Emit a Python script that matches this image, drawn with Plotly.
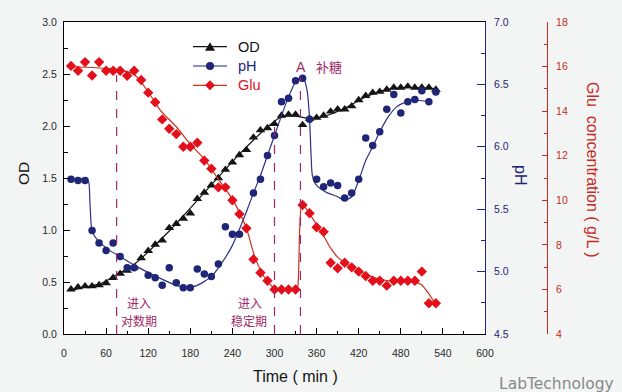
import plotly.graph_objects as go

# ---------------- data ----------------
od_time = [10, 20, 30, 40, 50, 60, 70, 80, 90, 100, 110, 120, 130, 140, 150, 160, 170, 180, 190, 200,
           210, 220, 230, 240, 250, 260, 270, 280, 290, 300, 310, 320, 330, 340, 350, 360, 370, 380, 390, 400,
           410, 420, 430, 440, 450, 460, 470, 480, 490, 500, 510, 520, 530]
od_values = [0.43, 0.45, 0.46, 0.46, 0.47, 0.49, 0.54, 0.58, 0.61, 0.64, 0.73, 0.80, 0.86, 0.90, 1.02, 1.06, 1.11, 1.16, 1.30, 1.36,
             1.43, 1.50, 1.58, 1.65, 1.72, 1.77, 1.89, 1.96, 1.98, 2.02, 2.10, 2.11, 2.11, 2.01, 2.07, 2.08, 2.10, 2.14, 2.16, 2.16,
             2.19, 2.25, 2.29, 2.32, 2.33, 2.35, 2.37, 2.37, 2.38, 2.37, 2.37, 2.37, 2.35]

ph_time = [10, 20, 30, 40, 50, 60, 70, 80, 90, 100, 120, 130, 140, 150, 160, 170, 180, 190, 200, 210,
           220, 230, 240, 250, 270, 280, 290, 300, 310, 320, 330, 340, 350, 360, 370, 380, 390, 400, 410, 420,
           430, 440, 450, 460, 470, 480, 490, 500, 510, 520, 530]
ph_values = [5.74, 5.73, 5.73, 5.33, 5.23, 5.17, 5.23, 5.12, 5.03, 5.03, 4.97, 4.95, 4.89, 5.03, 4.91, 4.87, 4.87, 5.02, 4.98, 4.96,
             5.06, 5.36, 5.30, 5.30, 5.63, 5.74, 5.93, 6.09, 6.36, 6.39, 6.53, 6.55, 6.22, 5.74, 5.68, 5.71, 5.69, 5.59, 5.63, 5.74,
             6.07, 6.01, 6.12, 6.30, 6.42, 6.27, 6.36, 6.38, 6.45, 6.36, 6.44]

glu_time = od_time
glu_values = [16.03, 15.81, 16.20, 15.60, 16.20, 15.81, 15.81, 15.81, 15.59, 15.81,
              15.40, 14.83, 14.40, 13.63, 13.21, 12.97, 12.40, 12.40, 12.58, 11.78,
              11.42, 10.58, 10.58, 10.00, 9.38, 8.74, 7.35, 6.75, 6.39, 6.00,
              6.00, 6.00, 6.00, 9.79, 9.42, 8.79, 8.59, 7.20, 6.95, 7.20,
              6.99, 6.80, 6.60, 6.39, 6.39, 6.17, 6.39, 6.39, 6.39, 6.39,
              6.80, 5.38, 5.38]

# fitted (smoothed) curves
od_fit_time = [10, 30, 50, 60, 70, 100, 150, 200, 250, 290, 305, 320, 335, 350, 370, 400, 430, 460, 490, 530]
od_fit_values = [0.42, 0.45, 0.48, 0.51, 0.55, 0.67, 0.99, 1.36, 1.73, 1.99, 2.07, 2.10, 2.09, 2.07, 2.09, 2.17, 2.28, 2.35, 2.37, 2.36]

ph_fit_time = [10, 30, 35, 37, 39, 42, 50, 65, 80, 104, 132, 160, 175, 190, 210, 225, 240, 250, 260, 270,
               280, 290, 300, 310, 320, 330, 338, 343, 347, 350, 352, 354, 360, 374, 390, 400, 410, 420, 430,
               440, 450, 462, 474, 488, 500, 520]
ph_fit_values = [5.74, 5.74, 5.72, 5.55, 5.36, 5.30, 5.24, 5.17, 5.12, 5.04, 4.96, 4.89, 4.87, 4.89, 4.96, 5.07, 5.21, 5.34, 5.48, 5.63,
                 5.77, 5.93, 6.09, 6.25, 6.40, 6.52, 6.56, 6.53, 6.43, 6.22, 5.95, 5.77, 5.69, 5.635, 5.60, 5.57, 5.60, 5.73, 5.89,
                 6.00, 6.12, 6.24, 6.32, 6.36, 6.375, 6.36]

glu_fit_time = [5, 30, 60, 80, 101, 120, 137, 160, 180, 200, 220, 240, 250, 260, 270, 280, 290, 300, 315, 332,
                334, 336, 339, 350, 360, 370, 380, 390, 400, 420, 440, 460, 480, 500, 510, 520, 528]
glu_fit_values = [16.0, 15.97, 15.92, 15.85, 15.62, 14.87, 14.05, 13.30, 12.52, 11.85, 10.95, 10.05, 9.45, 8.75, 7.65, 6.85, 6.36, 6.06, 6.0, 6.0,
                  6.5, 8.8, 9.85, 9.40, 8.90, 8.40, 7.85, 7.45, 7.20, 6.85, 6.55, 6.40, 6.36, 6.33, 6.20, 5.80, 5.42]

# event lines (time, top of the dashed line in OD units)
event_time = [75, 300, 337]
event_top = [2.49, 2.02, 2.47]

x_ticks = [0, 60, 120, 180, 240, 300, 360, 420, 480, 540, 600]

# ---------------- styling ----------------
W, H = 622, 392
ML, MR, MT, MB = 64, 62, 22, 58
PW = W - ML - MR
PH = H - MT - MB
X_END = (485 - ML) / PW
GLU_POS = (547 - ML) / PW

BLACK = "#141414"
NAVY = "#1f2577"
NAVY_LINE = "#2c3383"
RED = "#e3101c"
RED_LINE = "#c8321e"
RED_AX = "#c62a22"
PURPLE = "#a02868"
FONT = "Liberation Sans, Arial, sans-serif"
CJK = "Noto Sans CJK SC, sans-serif"


def px(x):
    return (x - ML) / PW


def py(y):
    return (MT + PH - y) / PH


fig = go.Figure()

# fitted curves
fig.add_trace(go.Scatter(x=glu_fit_time, y=glu_fit_values, yaxis="y3", mode="lines",
                         line=dict(color=RED_LINE, width=1.2, shape="spline", smoothing=0.6),
                         showlegend=False, hoverinfo="skip"))
fig.add_trace(go.Scatter(x=ph_fit_time, y=ph_fit_values, yaxis="y2", mode="lines",
                         line=dict(color=NAVY_LINE, width=1.2, shape="spline", smoothing=0.6),
                         showlegend=False, hoverinfo="skip"))
fig.add_trace(go.Scatter(x=od_fit_time, y=od_fit_values, yaxis="y", mode="lines",
                         line=dict(color=BLACK, width=1.2, shape="spline", smoothing=0.6),
                         showlegend=False, hoverinfo="skip"))

# markers
fig.add_trace(go.Scatter(x=glu_time, y=glu_values, yaxis="y3", mode="markers", name="Glu",
                         marker=dict(symbol="diamond", size=8, color=RED, line=dict(width=0)),
                         showlegend=False))
fig.add_trace(go.Scatter(x=ph_time, y=ph_values, yaxis="y2", mode="markers", name="pH",
                         marker=dict(symbol="circle", size=7.5, color=NAVY, line=dict(width=0)),
                         showlegend=False))
fig.add_trace(go.Scatter(x=od_time, y=od_values, yaxis="y", mode="markers", name="OD",
                         marker=dict(symbol="triangle-up", size=8.5, color=BLACK, line=dict(width=0)),
                         showlegend=False))

shapes = []
for t, top in zip(event_time, event_top):
    shapes.append(dict(type="line", xref="x", yref="y", x0=t, x1=t, y0=0, y1=top,
                       line=dict(color=PURPLE, width=1.2, dash="dash")))

# legend (manual)
leg_rows = [(46.7, "OD", BLACK, "tri"), (66.0, "pH", NAVY, "circ"), (85.3, "Glu", RED, "dia")]
annotations = []
for yy, label, col, kind in leg_rows:
    shapes.append(dict(type="line", xref="paper", yref="paper", x0=px(193), x1=px(227),
                       y0=py(yy), y1=py(yy), line=dict(color=col if kind != "dia" else RED_LINE, width=1.2)))
    cx = 210
    if kind == "tri":
        path = "M {} {} L {} {} L {} {} Z".format(px(cx - 5), py(yy + 4), px(cx + 5), py(yy + 4), px(cx), py(yy - 4.5))
        shapes.append(dict(type="path", xref="paper", yref="paper", path=path, fillcolor=col, line=dict(width=0)))
    elif kind == "circ":
        shapes.append(dict(type="circle", xref="paper", yref="paper", x0=px(cx - 4), x1=px(cx + 4),
                           y0=py(yy + 4), y1=py(yy - 4), fillcolor=col, line=dict(width=0)))
    else:
        path = "M {} {} L {} {} L {} {} L {} {} Z".format(px(cx - 5), py(yy), px(cx), py(yy - 5),
                                                         px(cx + 5), py(yy), px(cx), py(yy + 5))
        shapes.append(dict(type="path", xref="paper", yref="paper", path=path, fillcolor=col, line=dict(width=0)))
    annotations.append(dict(xref="paper", yref="paper", x=px(236), y=py(yy), xanchor="left", yanchor="middle",
                            text=label, showarrow=False, font=dict(family=FONT, size=14.5, color=col)))

# axis titles and notes
annotations += [
    dict(xref="paper", yref="paper", x=px(23), y=py(174), text="OD", textangle=-90, showarrow=False,
         font=dict(family=FONT, size=15.5, color=BLACK), xanchor="center", yanchor="middle"),
    dict(xref="paper", yref="paper", x=px(521), y=py(175), text="pH", textangle=90, showarrow=False,
         font=dict(family=FONT, size=16, color=NAVY), xanchor="center", yanchor="middle"),
    dict(xref="paper", yref="paper", x=px(593), y=py(170), text="Glu  concentration ( g/L )", textangle=90,
         showarrow=False, font=dict(family=FONT, size=16, color=RED_AX), xanchor="center", yanchor="middle"),
    dict(xref="paper", yref="paper", x=px(295), y=py(376), text="Time ( min )", showarrow=False,
         font=dict(family=FONT, size=16, color=BLACK), xanchor="center", yanchor="middle"),
    dict(xref="paper", yref="paper", x=px(139), y=py(302.8), text="进入", showarrow=False,
         font=dict(family=CJK, size=12, color=PURPLE), xanchor="center", yanchor="middle"),
    dict(xref="paper", yref="paper", x=px(138.5), y=py(320.6), text="对数期", showarrow=False,
         font=dict(family=CJK, size=12, color=PURPLE), xanchor="center", yanchor="middle"),
    dict(xref="paper", yref="paper", x=px(250), y=py(302.8), text="进入", showarrow=False,
         font=dict(family=CJK, size=12, color=PURPLE), xanchor="center", yanchor="middle"),
    dict(xref="paper", yref="paper", x=px(249), y=py(320.6), text="稳定期", showarrow=False,
         font=dict(family=CJK, size=12, color=PURPLE), xanchor="center", yanchor="middle"),
    dict(xref="paper", yref="paper", x=px(301), y=py(67), text="A", showarrow=False,
         font=dict(family=FONT, size=14, color=PURPLE), xanchor="center", yanchor="middle"),
    dict(xref="paper", yref="paper", x=px(328.5), y=py(66), text="补糖", showarrow=False,
         font=dict(family=CJK, size=13, color=PURPLE), xanchor="center", yanchor="middle"),
    dict(xref="paper", yref="paper", x=px(497), y=py(384), text="LabTechnology", showarrow=False,
         font=dict(family="DejaVu Sans, sans-serif", size=15.5, color="#8a8a8a"), xanchor="left", yanchor="middle"),
]

tickfont = dict(family=FONT, size=10.5, color="#2a2a2a")

fig.update_layout(
    width=W, height=H,
    margin=dict(l=ML, r=MR, t=MT, b=MB, pad=0),
    paper_bgcolor="#f3f4f4",
    plot_bgcolor="white",
    showlegend=False,
    xaxis=dict(domain=[0, X_END], range=[0, 600], tickvals=x_ticks, showgrid=False, zeroline=False,
               showline=True, linecolor="black", linewidth=1, mirror=True,
               ticks="inside", ticklen=6, tickcolor="black", tickwidth=1,
               minor=dict(ticks="inside", ticklen=3.5, dtick=30, tickcolor="black", tickwidth=1),
               tickfont=tickfont, ticklabelstandoff=9),
    yaxis=dict(range=[0, 3], dtick=0.5, tickformat=".1f", showgrid=False, zeroline=False,
               showline=True, linecolor="black", linewidth=1,
               ticks="inside", ticklen=6, tickcolor="black", tickwidth=1,
               minor=dict(ticks="inside", ticklen=3.5, dtick=0.25, tickcolor="black", tickwidth=1),
               tickfont=tickfont, ticklabelstandoff=4),
    yaxis2=dict(overlaying="y", side="right", anchor="x", range=[4.5, 7], dtick=0.5, tickformat=".1f",
                showgrid=False, zeroline=False, showline=True, linecolor=NAVY, linewidth=1,
                ticks="inside", ticklen=8, tickcolor=NAVY, tickwidth=1,
                minor=dict(ticks="inside", ticklen=4, dtick=0.25, tickcolor=NAVY, tickwidth=1),
                tickfont=dict(family=FONT, size=10.5, color=NAVY), ticklabelstandoff=6),
    yaxis3=dict(overlaying="y", side="right", anchor="free", position=GLU_POS, range=[4, 18], dtick=2,
                showgrid=False, zeroline=False, showline=True, linecolor=RED_AX, linewidth=1,
                ticks="inside", ticklen=5, tickcolor=RED_AX, tickwidth=1,
                minor=dict(ticks="inside", ticklen=3, dtick=1, tickcolor=RED_AX, tickwidth=1),
                tickfont=dict(family=FONT, size=10.5, color=RED_AX), ticklabelstandoff=6),
    shapes=shapes,
    annotations=annotations,
)

fig.write_html("out.html", config={"displayModeBar": False},
               post_script="document.body.style.margin='0';document.body.style.background='#f3f4f4';")
